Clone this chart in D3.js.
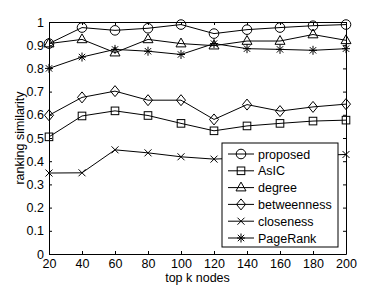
<!doctype html>
<html>
<head>
  <script src="https://d3js.org/d3.v7.min.js"></script>
  <style>
    body { margin:0; background:#fff; }
    text { font-family: "Liberation Sans", Arial, sans-serif; }
  </style>
</head>
<body>
  <script>
    // top k values on the x axis
    var topK = [20, 40, 60, 80, 100, 120, 140, 160, 180, 200];
    var yTicks = [0, 0.1, 0.2, 0.3, 0.4, 0.5, 0.6, 0.7, 0.8, 0.9, 1];

    var proposed    = [0.907, 0.976, 0.964, 0.973, 0.989, 0.950, 0.967, 0.976, 0.984, 0.989];
    var asic        = [0.505, 0.595, 0.617, 0.597, 0.563, 0.531, 0.552, 0.563, 0.573, 0.577];
    var degree      = [0.907, 0.925, 0.868, 0.925, 0.907, 0.898, 0.918, 0.918, 0.946, 0.921];
    var betweenness = [0.598, 0.675, 0.702, 0.663, 0.663, 0.580, 0.644, 0.616, 0.634, 0.646];
    var closeness   = [0.349, 0.350, 0.449, 0.436, 0.419, 0.409, 0.415, 0.420, 0.425, 0.429];
    var pagerank    = [0.800, 0.849, 0.882, 0.874, 0.860, 0.907, 0.885, 0.882, 0.878, 0.885];

    var seriesNames = ["proposed", "AsIC", "degree", "betweenness", "closeness", "PageRank"];
    var seriesValues = [proposed, asic, degree, betweenness, closeness, pagerank];
    var seriesMarkers = ["circle", "square", "triangle", "diamond", "cross", "star"];

    var width = 382, height = 287;
    var margin = {top: 22, right: 36, bottom: 33, left: 49};
    var fontSize = 12.5;

    var svg = d3.select("body").append("svg")
      .attr("width", width)
      .attr("height", height);

    var x = d3.scaleLinear()
      .domain([20, 200])
      .range([margin.left, width - margin.right]);

    var y = d3.scaleLinear()
      .domain([0, 1])
      .range([height - margin.bottom, margin.top]);

    // draws a marker shape centred on 0,0
    function drawMarker(g, type) {
      if (type == "circle") {
        g.append("circle").attr("r", 4.8);
      } else if (type == "square") {
        g.append("rect").attr("x", -3.8).attr("y", -3.8).attr("width", 7.6).attr("height", 7.6);
      } else if (type == "triangle") {
        g.append("path").attr("d", "M0,-5.5L5,3.3L-5,3.3Z");
      } else if (type == "diamond") {
        g.append("path").attr("d", "M0,-5.5L4.5,0L0,5.5L-4.5,0Z");
      } else if (type == "cross") {
        g.append("path").attr("d", "M-3.5,-3.5L3.5,3.5M-3.5,3.5L3.5,-3.5");
      } else if (type == "star") {
        g.append("path").attr("d", "M-4,0L4,0M0,-4.5L0,4.5M-3.2,-3.2L3.2,3.2M-3.2,3.2L3.2,-3.2");
      }
      g.selectAll("*").attr("fill", "none").attr("stroke", "#000").attr("stroke-width", 1);
    }

    var line = d3.line()
      .x(function(d, i) { return x(topK[i]); })
      .y(function(d) { return y(d); });

    // lines and markers for each series
    seriesValues.forEach(function(vals, s) {
      svg.append("path")
        .datum(vals)
        .attr("d", line)
        .attr("fill", "none")
        .attr("stroke", "#000")
        .attr("stroke-width", 1);
      vals.forEach(function(v, i) {
        var g = svg.append("g")
          .attr("transform", "translate(" + x(topK[i]) + "," + y(v) + ")");
        drawMarker(g, seriesMarkers[s]);
      });
    });

    // axes with inward ticks, matlab style box
    var bottomAxis = d3.axisBottom(x).tickValues(topK).tickSizeInner(-3).tickSizeOuter(0).tickPadding(5);
    var leftAxis = d3.axisLeft(y).tickValues(yTicks).tickSizeInner(-3).tickSizeOuter(0).tickPadding(5)
      .tickFormat(function(d) { return d == 0 || d == 1 ? d : d3.format(".1f")(d); });
    var topAxis = d3.axisTop(x).tickValues(topK).tickSizeInner(-3).tickSizeOuter(0).tickFormat("");
    var rightAxis = d3.axisRight(y).tickValues(yTicks).tickSizeInner(-3).tickSizeOuter(0).tickFormat("");

    var gb = svg.append("g").attr("transform", "translate(0," + (height - margin.bottom) + ")").call(bottomAxis);
    var gl = svg.append("g").attr("transform", "translate(" + margin.left + ",0)").call(leftAxis);
    var gt = svg.append("g").attr("transform", "translate(0," + margin.top + ")").call(topAxis);
    var gr = svg.append("g").attr("transform", "translate(" + (width - margin.right) + ",0)").call(rightAxis);

    [gb, gl, gt, gr].forEach(function(g) {
      g.selectAll("text").attr("font-size", fontSize).attr("fill", "#000")
        .style("font-family", "'Liberation Sans', Arial, sans-serif");
      g.selectAll("path, line").attr("stroke", "#000");
    });

    // axis titles
    svg.append("text")
      .attr("x", (margin.left + width - margin.right) / 2)
      .attr("y", 282)
      .attr("text-anchor", "middle")
      .attr("font-size", fontSize)
      .text("top k nodes");

    svg.append("text")
      .attr("transform", "translate(24," + (margin.top + height - margin.bottom) / 2 + ") rotate(-90)")
      .attr("text-anchor", "middle")
      .attr("font-size", fontSize)
      .text("ranking similarity");

    // legend
    var lx = 222, ly = 143, lw = 116, lh = 104, rowH = 16.8;
    var legend = svg.append("g").attr("transform", "translate(" + lx + "," + ly + ")");
    legend.append("rect")
      .attr("width", lw).attr("height", lh)
      .attr("fill", "#fff").attr("stroke", "#000").attr("stroke-width", 1);

    seriesNames.forEach(function(name, i) {
      var row = legend.append("g").attr("transform", "translate(0," + (11 + i * rowH) + ")");
      row.append("line").attr("x1", 6).attr("x2", 32).attr("y1", 0).attr("y2", 0)
        .attr("stroke", "#000").attr("stroke-width", 1);
      var m = row.append("g").attr("transform", "translate(19,0)");
      drawMarker(m, seriesMarkers[i]);
      row.append("text")
        .attr("x", 36).attr("y", 4.5)
        .attr("font-size", fontSize)
        .text(name);
    });
  </script>
</body>
</html>
